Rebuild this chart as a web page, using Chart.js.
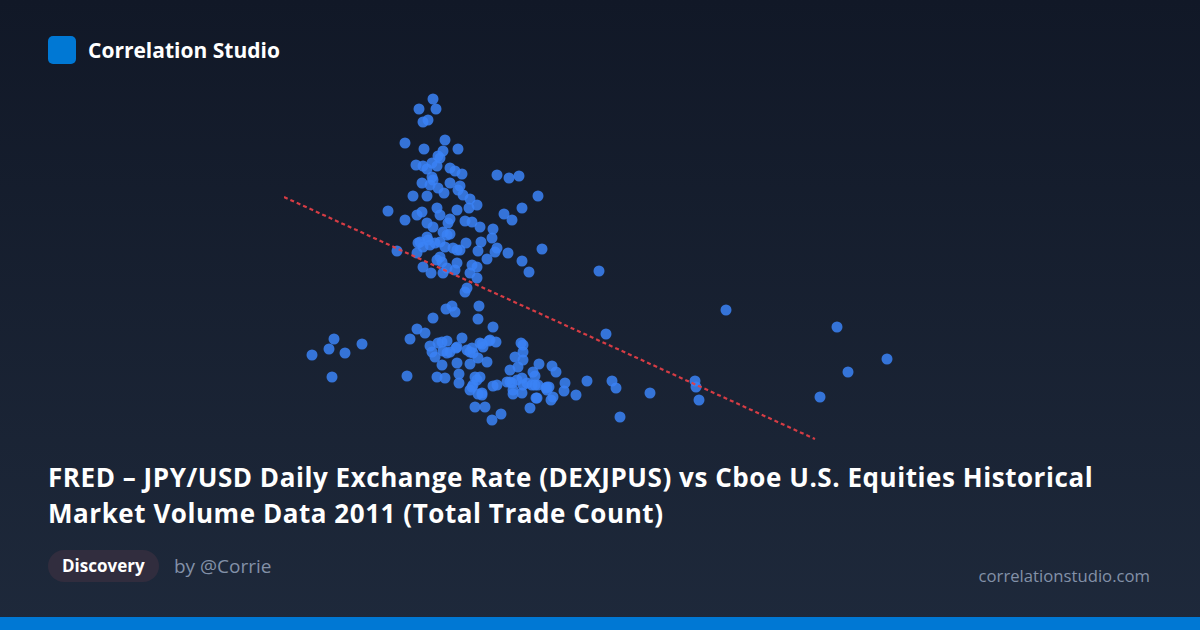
<!DOCTYPE html>
<html>
<head>
<meta charset="utf-8">
<script src="https://cdn.jsdelivr.net/npm/chart.js@4"></script>
<style>
  html, body { margin: 0; padding: 0; }
  body {
    width: 1200px; height: 630px; overflow: hidden; position: relative;
    background: linear-gradient(180deg, #111827 0%, #1e293b 100%);
    font-family: "Open Sans", "Noto Sans", sans-serif;
  }
  .brand { position: absolute; left: 48px; top: 36px; display: flex; align-items: center; }
  .logo { width: 28px; height: 28px; border-radius: 5px; background: #0078d4; }
  .brand span { margin-left: 12px; color: #fff; font-weight: 700; font-size: 21px; }
  #wrap { position: absolute; left: 284px; top: 90px; width: 632px; height: 350px; }
  .title {
    position: absolute; left: 48px; top: 459px; width: 1130px;
    color: #fff; font-weight: 700; font-size: 26px; letter-spacing: 0.55px; line-height: 36px;
    white-space: nowrap;
  }
  .pill {
    position: absolute; left: 48px; top: 550px; height: 32px; padding: 0 14px;
    border-radius: 16px; background: #312d3e; color: #fff; font-weight: 700;
    font-size: 17px; line-height: 32px;
  }
  .by { position: absolute; left: 174px; top: 553px; color: #8391a8; font-size: 19px; line-height: 26px; }
  .site { position: absolute; right: 50px; top: 563px; color: #8391a8; font-size: 16.7px; line-height: 26px; }
  .bar { position: absolute; left: 0; bottom: 0; width: 1200px; height: 13px; background: #0078d4; }
</style>
</head>
<body>
<div class="brand"><div class="logo"></div><span>Correlation Studio</span></div>
<div id="wrap"><canvas id="scatter"></canvas></div>
<div class="title">FRED – JPY/USD Daily Exchange Rate (DEXJPUS) vs Cboe U.S. Equities Historical<br>Market Volume Data 2011 (Total Trade Count)</div>
<div class="pill">Discovery</div>
<div class="by">by @Corrie</div>
<div class="site">correlationstudio.com</div>
<div class="bar"></div>
<script>
// JPY per USD (x) and total trade count, millions (y)
var jpyRate = [
  77.98, 77.70, 78.04, 77.88, 77.78, 77.42, 78.22, 77.80, 78.48, 78.18,
  78.08, 78.12, 77.64, 77.78, 77.86, 77.96, 78.06, 78.32, 78.42, 78.56,
  79.26, 79.50, 79.70, 77.96, 77.98, 78.32, 77.76, 78.52, 78.48, 77.92,
  78.08, 78.20, 77.58, 77.86, 78.58, 78.72, 80.08, 78.86, 79.76, 77.08,
  78.06, 78.12, 78.46, 78.70, 79.40, 79.56, 77.66, 77.76, 77.42, 77.86,
  77.98, 78.62, 78.76, 78.92, 78.28, 78.32, 79.18, 79.16, 78.18, 78.26,
  78.32, 77.68, 77.86, 77.92, 78.02, 78.94, 78.64, 80.16, 79.26, 79.22,
  79.48, 78.88, 79.06, 79.76, 79.90, 77.26, 77.66, 78.46, 78.38, 78.12,
  78.06, 77.78, 77.94, 78.46, 78.42, 78.26, 78.18, 78.76, 78.86, 78.72,
  78.86, 81.30, 77.72, 77.88, 77.78, 78.12, 78.22, 78.52, 78.66, 78.16,
  78.62, 78.24, 78.36, 78.42, 78.90, 78.88, 77.98, 77.66, 77.82, 77.52,
  79.18, 78.56, 83.84, 81.44, 75.56, 75.90, 76.00, 76.22, 76.56, 75.96,
  77.46, 77.92, 77.96, 78.02, 78.08, 78.16, 78.26, 78.18, 78.26, 78.32,
  78.44, 78.16, 78.46, 78.72, 78.72, 78.76, 78.78, 78.96, 78.98, 78.88,
  79.10, 79.24, 79.06, 78.06, 78.22, 78.50, 78.50, 78.82, 78.86, 78.92,
  78.78, 78.76, 78.96, 78.96, 78.82, 79.02, 79.16, 79.34, 79.18, 79.26,
  79.74, 79.78, 79.78, 79.62, 79.78, 79.68, 79.52, 80.10, 80.36, 80.44,
  79.98, 80.02, 79.46, 79.56, 79.66, 79.76, 79.78, 79.86, 79.96, 80.02,
  80.08, 79.58, 79.76, 80.26, 80.26, 80.30, 80.04, 80.38, 80.34, 80.62,
  80.60, 80.84, 81.06, 79.92, 81.56, 81.64, 81.72, 82.32, 83.22, 83.24,
  83.30, 85.72, 86.06, 86.28, 87.06, 79.52, 79.58, 78.72, 78.88, 78.66,
  78.92, 79.12, 80.06, 78.46, 80.24
];
var tradeCount = [
  7.82, 7.62, 7.62, 7.40, 7.36, 6.94, 7.00, 6.82, 6.82, 6.78,
  6.68, 6.64, 6.50, 6.48, 6.42, 6.54, 6.48, 6.44, 6.38, 6.32,
  6.30, 6.24, 6.28, 6.26, 6.20, 6.14, 6.14, 6.08, 6.00, 6.10,
  6.04, 5.94, 5.88, 5.88, 5.90, 5.82, 5.88, 5.70, 5.64, 5.58,
  5.64, 5.50, 5.60, 5.64, 5.52, 5.40, 5.50, 5.56, 5.40, 5.34,
  5.26, 5.38, 5.36, 5.26, 5.34, 5.42, 5.22, 5.04, 5.16, 5.10,
  5.12, 4.94, 5.06, 4.90, 4.94, 4.96, 4.94, 4.82, 4.84, 4.76,
  4.74, 4.78, 4.62, 4.58, 4.36, 4.78, 4.74, 4.80, 4.84, 4.66,
  4.60, 4.46, 4.34, 4.54, 4.40, 4.44, 4.34, 4.50, 4.46, 4.34,
  4.24, 4.38, 4.96, 5.00, 4.86, 4.96, 4.86, 4.80, 4.04, 4.56,
  3.96, 3.62, 3.68, 3.56, 3.68, 3.42, 3.44, 3.22, 3.14, 3.02,
  3.26, 3.04, 3.60, 3.12, 2.70, 2.82, 3.02, 2.74, 2.92, 2.26,
  2.28, 2.88, 2.76, 2.66, 2.94, 2.96, 2.98, 2.78, 2.74, 2.76,
  2.84, 2.50, 2.54, 2.52, 2.76, 2.84, 2.74, 2.92, 2.86, 2.64,
  2.98, 2.96, 2.56, 2.26, 2.24, 2.32, 2.14, 2.26, 2.20, 2.26,
  2.10, 2.06, 1.94, 1.90, 1.66, 1.66, 1.40, 1.52, 2.08, 2.10,
  2.94, 2.90, 2.76, 2.66, 2.60, 2.46, 2.40, 2.52, 2.48, 2.36,
  2.36, 2.28, 2.16, 2.14, 2.20, 2.24, 2.10, 2.14, 2.10, 2.10,
  2.10, 1.92, 1.94, 2.06, 2.00, 2.06, 1.84, 1.86, 1.80, 2.14,
  1.98, 1.90, 2.18, 1.64, 2.18, 2.04, 1.46, 1.94, 2.18, 2.06,
  1.80, 1.86, 3.26, 2.36, 2.62, 2.16, 2.00, 2.00, 1.92, 2.80,
  2.94, 3.00, 1.84, 2.86, 2.04
];
// fitted trend line end points
var trendX = [75.00, 85.62];
var trendY = [5.86, 1.02];

var points = jpyRate.map(function (x, i) { return { x: x, y: tradeCount[i] }; });
var trend = trendX.map(function (x, i) { return { x: x, y: trendY[i] }; });

var ctx = document.getElementById('scatter').getContext('2d');
new Chart(ctx, {
  type: 'scatter',
  data: {
    datasets: [
      {
        type: 'line',
        data: trend,
        borderColor: 'rgba(224, 62, 70, 0.95)',
        borderWidth: 2.2,
        borderDash: [4, 3],
        pointRadius: 0,
        fill: false
      },
      {
        data: points,
        backgroundColor: 'rgba(59, 130, 246, 0.85)',
        borderWidth: 0,
        pointRadius: 5.5,
        pointHoverRadius: 5.5
      }
    ]
  },
  options: {
    responsive: true,
    maintainAspectRatio: false,
    animation: false,
    layout: { padding: 0, autoPadding: false },
    plugins: { legend: { display: false }, tooltip: { enabled: false } },
    scales: {
      x: { type: 'linear', display: false, min: 75, max: 87.64 },
      y: { type: 'linear', display: false, min: 1, max: 8 }
    }
  }
});
</script>
</body>
</html>
